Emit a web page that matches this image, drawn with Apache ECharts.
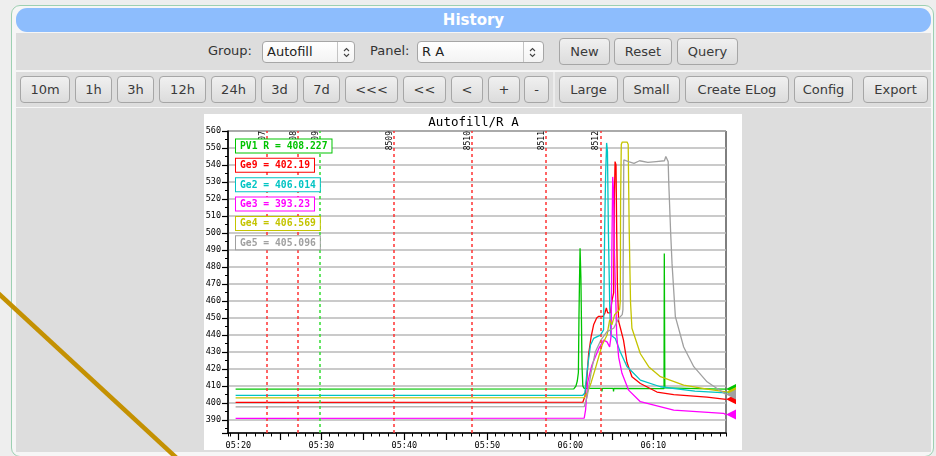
<!DOCTYPE html>
<html>
<head>
<meta charset="utf-8">
<script src="https://cdn.jsdelivr.net/npm/echarts@6/dist/echarts.min.js"></script>
<style>
html,body{margin:0;padding:0;width:936px;height:456px;overflow:hidden;background:#eeeeee;
  font-family:"DejaVu Sans",sans-serif;font-size:13px;color:#383838;}
.abs{position:absolute;box-sizing:border-box;}
#frame{left:11px;top:5px;width:923px;height:452px;border:1px solid #9dd0b2;border-radius:9px;background:#f6f6f6;}
#hdr{left:16px;top:8px;width:915px;height:24px;background:#8dbdfd;border-radius:11px;color:#fff;
  font-weight:bold;font-size:15px;line-height:24px;text-align:center;}
.row{left:16px;width:915px;background:#dddddd;}
.btn{height:27px;border:1px solid #a6a6a6;border-radius:4px;background:linear-gradient(#f0f0f0,#dcdcdc);
  text-align:center;line-height:25px;color:#3a3a3a;white-space:nowrap;}
.sel{height:22px;border:1px solid #a6a6a6;border-radius:4px;background:linear-gradient(#ffffff,#f3f3f3);
  line-height:20px;padding-left:4px;color:#222;}
.sel .div{position:absolute;top:0;bottom:0;border-left:1px solid #c4c4c4;}
.sel svg{position:absolute;top:5px;}
.lbl{line-height:22px;color:#333;}
#chart{position:absolute;left:0;top:0;width:936px;height:456px;}
</style>
</head>
<body>
<div id="frame" class="abs"></div>
<div id="hdr" class="abs">History</div>
<div class="abs row" style="top:33px;height:37px"></div>
<div class="abs row" style="top:72px;height:35px"></div>
<div class="abs" style="left:553px;top:72px;width:2px;height:35px;background:#ececec"></div>
<div class="abs row" style="top:108px;height:344px"></div>

<div class="abs lbl" style="left:208px;top:40px">Group:</div>
<div class="abs sel" style="left:262px;top:41px;width:93px">Autofill
  <span class="div" style="left:74px"></span>
  <svg style="left:79px" width="9" height="11" viewBox="0 0 9 11"><path d="M2 4 L4.5 1.5 L7 4 M2 7 L4.5 9.5 L7 7" fill="none" stroke="#444" stroke-width="1.1"/></svg>
</div>
<div class="abs lbl" style="left:370px;top:40px">Panel:</div>
<div class="abs sel" style="left:417px;top:41px;width:127px">R A
  <span class="div" style="left:105px"></span>
  <svg style="left:110px" width="9" height="11" viewBox="0 0 9 11"><path d="M2 4 L4.5 1.5 L7 4 M2 7 L4.5 9.5 L7 7" fill="none" stroke="#444" stroke-width="1.1"/></svg>
</div>
<div class="abs btn" style="left:559px;top:38px;width:51px">New</div>
<div class="abs btn" style="left:614px;top:38px;width:58px">Reset</div>
<div class="abs btn" style="left:677px;top:38px;width:61px">Query</div>

<div class="abs btn" style="left:20px;top:76px;width:50px">10m</div>
<div class="abs btn" style="left:75px;top:76px;width:37px">1h</div>
<div class="abs btn" style="left:117px;top:76px;width:37px">3h</div>
<div class="abs btn" style="left:159px;top:76px;width:47px">12h</div>
<div class="abs btn" style="left:211px;top:76px;width:45px">24h</div>
<div class="abs btn" style="left:261px;top:76px;width:37px">3d</div>
<div class="abs btn" style="left:303px;top:76px;width:37px">7d</div>
<div class="abs btn" style="left:345px;top:76px;width:53px">&lt;&lt;&lt;</div>
<div class="abs btn" style="left:403px;top:76px;width:43px">&lt;&lt;</div>
<div class="abs btn" style="left:451px;top:76px;width:32px">&lt;</div>
<div class="abs btn" style="left:488px;top:76px;width:32px">+</div>
<div class="abs btn" style="left:524px;top:76px;width:25px">-</div>
<div class="abs btn" style="left:559px;top:76px;width:59px">Large</div>
<div class="abs btn" style="left:623px;top:76px;width:57px">Small</div>
<div class="abs btn" style="left:685px;top:76px;width:104px">Create ELog</div>
<div class="abs btn" style="left:794px;top:76px;width:59px">Config</div>
<div class="abs btn" style="left:863px;top:76px;width:65px">Export</div>

<div id="chart"></div>
<script>
// ---- history data: sample times (HH:MM:SS) and readings per variable ----
const seriesNames = ['PV1 R', 'Ge9', 'Ge2', 'Ge3', 'Ge4', 'Ge5'];

const pv1rTimes = ['05:19:40','06:00:25','06:00:40','06:00:50','06:00:58','06:01:02','06:01:06','06:01:10',
  '06:01:16','06:01:20','06:01:24','06:01:30','06:01:40','06:03:45','06:03:48','06:03:51','06:05:10',
  '06:05:12','06:05:14','06:11:17','06:11:19','06:11:21','06:11:23','06:16:40','06:18:45'];
const pv1rValues = [408.2,408.3,410,413,418,450,472,491,474,449,422,410,408.6,408.6,406.8,408.6,408.6,
  406.9,408.6,408.5,488,447,408.9,408.4,408.227];

const ge9Times = ['05:19:40','06:01:30','06:01:45','06:02:00','06:02:12','06:02:30','06:02:48','06:03:10',
  '06:03:25','06:03:56','06:04:10','06:04:20','06:04:30','06:04:49','06:05:00','06:05:13','06:05:18',
  '06:05:23','06:05:30','06:05:35','06:05:40','06:05:49','06:06:02','06:06:24','06:06:49','06:07:25',
  '06:08:26','06:10:26','06:12:27','06:16:28','06:18:45'];
const ge9Values = [400.4,400.5,404,415,429,439,446,450,451,451,453,456,453,453,460,465,520,542,540,500,
  470,448,444,437,424,415.5,411.5,406.5,405,403.5,402.19];

const ge2Times = ['05:19:40','06:01:30','06:01:45','06:02:01','06:02:25','06:02:48','06:03:37','06:04:00',
  '06:04:08','06:04:15','06:04:22','06:04:28','06:04:35','06:04:45','06:04:52','06:05:25','06:06:01',
  '06:06:49','06:08:26','06:10:51','06:15:00','06:18:45'];
const ge2Values = [404.5,404.6,406,419,434,438,440,443,503,535,553,548,500,455,440,438,430,421.5,413.5,
  409.6,407,406.014];

const ge3Times = ['05:19:40','06:01:40','06:01:50','06:02:05','06:02:25','06:02:36','06:03:25','06:04:00',
  '06:04:25','06:04:44','06:04:55','06:05:00','06:05:06','06:05:12','06:05:18','06:05:25','06:05:35',
  '06:05:49','06:06:13','06:07:01','06:08:26','06:12:27','06:18:26','06:18:45'];
const ge3Values = [391,391.1,396,412,419,422.4,432,437,436,433,440,490,533,525,490,470,440,427,417.5,
  407.6,400.8,395.9,394,393.23];

const ge4Times = ['05:19:40','06:01:40','06:02:01','06:02:30','06:03:01','06:03:49','06:04:25','06:04:44',
  '06:05:00','06:05:20','06:05:56','06:06:01','06:06:03','06:06:08','06:06:15','06:06:50','06:06:58',
  '06:07:01','06:07:05','06:07:10','06:07:15','06:07:25','06:08:26','06:09:26','06:10:51','06:13:39',
  '06:16:40','06:18:45'];
const ge4Values = [403.1,403.2,405.7,412,420.4,434,440,449,446,452,455,460,518,552,553.5,553.5,552,530,
  503,480,459,444,429,421.4,415.5,410.6,408,406.569];

const ge5Times = ['05:19:40','06:01:40','06:02:01','06:02:30','06:03:00','06:03:40','06:04:25','06:05:13',
  '06:05:49','06:06:15','06:06:20','06:06:26','06:07:00','06:07:40','06:08:20','06:09:20','06:10:20',
  '06:11:20','06:11:30','06:11:40','06:11:47','06:11:51','06:12:05','06:12:15','06:12:39','06:13:39',
  '06:14:52','06:16:28','06:17:40','06:18:45'];
const ge5Values = [397.8,397.9,403.7,418,430,437,442,444,449.8,452,455,543,542,541,542.5,541.5,542,542.5,
  545,545.3,542,530,500,482,450.8,433,421.4,412.5,408.6,405.096];

// run transitions drawn as dashed markers
const runTimes  = ['05:23:25','05:27:10','05:29:50','05:38:46','05:48:07','05:57:04','06:03:36'];
const runLabels = ['8507','8508','8509','8509','8510','8511','8512'];
const runKinds  = ['stop','stop','start','stop','stop','stop','stop'];

// displayed time window
const windowStart = '05:18:45';
const windowEnd   = '06:18:45';
const yMin = 382.4, yMax = 560;

const panelTitle = 'Autofill/R A';

// ---- helpers ----
function ts(hms) {
  const p = hms.split(':').map(Number);
  return new Date(2024, 0, 15, p[0], p[1], p[2]).getTime();
}
function pad(n) { return (n < 10 ? '0' : '') + n; }

const palette = ['#00c400', '#ff0000', '#00c4c4', '#ff00ff', '#c4c400', '#a0a0a0'];
const kindColor = { start: '#33dd33', stop: '#ff3333' };
const allTimes = [pv1rTimes, ge9Times, ge2Times, ge3Times, ge4Times, ge5Times];
const allValues = [pv1rValues, ge9Values, ge2Values, ge3Values, ge4Values, ge5Values];

const mono = '"DejaVu Sans Mono", monospace';

const series = seriesNames.map((name, i) => {
  const times = allTimes[i], vals = allValues[i];
  const last = times.length - 1;
  const s = {
    name: name,
    type: 'line',
    xAxisIndex: 0,
    yAxisIndex: 0,
    symbol: 'none',
    showSymbol: false,
    data: times.map((t, k) => [ts(t), vals[k]]),
    lineStyle: { color: palette[i], width: 1.3 },
    itemStyle: { color: palette[i] },
    emphasis: { disabled: true },
    markPoint: {
      silent: true,
      symbol: 'triangle',
      symbolSize: [10, 10],
      symbolRotate: 90,
      symbolOffset: [5, 0],
      itemStyle: { color: palette[i] },
      label: { show: false },
      data: [{ coord: [ts(times[last]), vals[last]] }]
    }
  };
  if (i === 0) {
    s.markLine = {
      silent: true,
      symbol: ['none', 'none'],
      label: {
        show: true, position: 'insideEndTop', distance: 0,
        fontSize: 8, fontFamily: mono, color: '#000'
      },
      data: runTimes.map((t, k) => ({
        xAxis: ts(t),
        lineStyle: { color: kindColor[runKinds[k]], type: [3, 3], width: 1.5 },
        label: { formatter: runLabels[k] }
      }))
    };
  }
  return s;
});

// value boxes in the upper left of the plot
const legendBoxes = seriesNames.map((name, i) => {
  const vals = allValues[i];
  return {
    type: 'text',
    x: 236,
    y: 139.5 + i * 19.35,
    z: 100,
    style: {
      text: name + ' = ' + vals[vals.length - 1],
      fill: palette[i],
      font: 'bold 9.7px ' + mono,
      backgroundColor: '#ffffff',
      borderColor: palette[i],
      borderWidth: 1,
      padding: [2, 4, 1, 4],
      verticalAlign: 'top'
    }
  };
});

const chart = echarts.init(document.getElementById('chart'), null, { renderer: 'canvas' });
chart.setOption({
  animation: false,
  backgroundColor: 'transparent',
  grid: [
    { left: 228, top: 131, width: 498, height: 302, show: true, borderColor: '#000', borderWidth: 1,
      backgroundColor: 'transparent', containLabel: false },
    { left: 228, top: 131, width: 498, height: 302, show: false, containLabel: false }
  ],
  xAxis: [
    {
      type: 'time', gridIndex: 0, position: 'bottom',
      min: ts(windowStart), max: ts(windowEnd),
      minInterval: 600000, maxInterval: 600000,
      axisLine: { show: true, lineStyle: { color: '#000', width: 1.5 } },
      axisTick: { show: true, length: 7, lineStyle: { color: '#000', width: 1.2 } },
      axisLabel: {
        color: '#000', fontFamily: mono, fontSize: 8.5, margin: 8, hideOverlap: false,
        formatter: function (v) {
          const d = new Date(v);
          if (d.getSeconds() !== 0 || d.getMinutes() % 10 !== 0) return '';
          return pad(d.getHours()) + ':' + pad(d.getMinutes());
        }
      },
      splitLine: { show: false }
    },
    {
      type: 'time', gridIndex: 1, position: 'bottom',
      min: ts(windowStart), max: ts(windowEnd),
      minInterval: 60000, maxInterval: 60000,
      axisLine: { show: false },
      axisTick: { show: true, length: 3.5, lineStyle: { color: '#000', width: 1 } },
      axisLabel: { show: false },
      splitLine: { show: false }
    }
  ],
  yAxis: [
    {
      type: 'value', gridIndex: 0, min: yMin, max: yMax,
      splitNumber: 18, minInterval: 10, maxInterval: 10,
      axisLine: { show: true, lineStyle: { color: '#000', width: 1.5 } },
      axisTick: { show: true, length: 6, lineStyle: { color: '#000', width: 1.2 } },
      minorTick: { show: true, splitNumber: 2, length: 3, lineStyle: { color: '#000', width: 1 } },
      axisLabel: {
        color: '#000', fontFamily: mono, fontSize: 8.5, margin: 7,
        formatter: function (v) {
          const r = Math.round(v);
          return (Math.abs(v - r) < 1e-6 && r % 10 === 0) ? String(r) : '';
        }
      },
      splitLine: { show: true, lineStyle: { color: '#b8b8b8', width: 1.5 } }
    },
    { type: 'value', gridIndex: 1, min: yMin, max: yMax, show: false }
  ],
  series: series,
  graphic: [
    { type: 'rect', z: -5, shape: { x: 204, y: 114, width: 538, height: 336 }, style: { fill: '#ffffff' } },
    { type: 'text', x: 473.5, y: 122.5, z: 10,
      style: { text: panelTitle, fill: '#000', font: '12.5px ' + mono, align: 'center', verticalAlign: 'middle' } },
    { type: 'line', z: 200, shape: { x1: -2, y1: 293, x2: 181, y2: 462 },
      style: { stroke: '#c49102', lineWidth: 4.5 } }
  ].concat(legendBoxes)
});
</script>
</body>
</html>
